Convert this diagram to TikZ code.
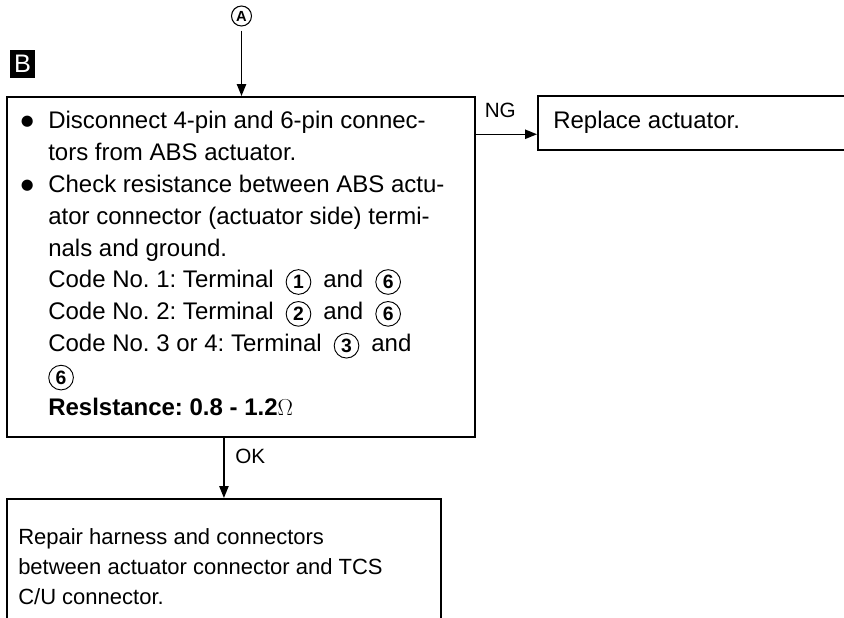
\documentclass[tikz,border=0pt]{standalone}
\usepackage{fontspec}
\setmainfont{Liberation Sans}
\newfontfamily\symfont{DejaVu Sans}
\usetikzlibrary{positioning, arrows.meta}
\frenchspacing

\newcommand{\term}[1]{\tikz[baseline={([yshift=-4.5pt]t.center)}] \node[circle, draw, line width=0.7pt,
    minimum size=18.5pt, inner sep=0pt, font=\bfseries\fontsize{14.5}{14.5}\selectfont] (t) {#1};}
\newcommand{\gapterm}[1]{\hspace{4pt}\term{#1}\hspace{4pt}}
\newcommand{\dotitem}{\llap{\raisebox{2pt}{\symfont\fontsize{11}{11}\selectfont ●}\hspace{11pt}}}

\begin{document}
\begin{tikzpicture}[
    x=0.75pt, y=-0.75pt,
    box/.style={draw, line width=1.4pt, inner sep=0pt},
    body/.style={anchor=north west, align=left, inner sep=0pt, font=\fontsize{18}{23.9}\selectfont},
    flow/.style={-{Triangle[length=9pt, width=7pt]}, line width=1.1pt},
    tag/.style={font=\fontsize{15.5}{16}\selectfont, inner sep=0pt}
]
    \useasboundingbox (0,0) rectangle (844,618);

    % --- ENTRY MARKS ---
    \node[circle, draw, line width=0.8pt, minimum size=15pt, inner sep=0pt,
          font=\bfseries\fontsize{11}{11}\selectfont] (A) at (241.5,16) {A};
    \node[fill=black, text=white, minimum width=19pt, minimum height=21pt, inner sep=0pt,
          font=\fontsize{19}{19}\selectfont] (B) at (22.5,64) {B};

    % --- CHECK BOX ---
    \node[box, anchor=north west, minimum width=351pt, minimum height=255pt] (check) at (6,96) {};
    \node[body] (check-text) at (48,111) {%
        \dotitem Disconnect 4-pin and 6-pin connec-\\
        tors from ABS actuator.\\
        \dotitem Check resistance between ABS actu-\\
        ator connector (actuator side) termi-\\
        nals and ground.\\
        Code No. 1: Terminal \gapterm{1} and \gapterm{6}\\
        Code No. 2: Terminal \gapterm{2} and \gapterm{6}\\
        Code No. 3 or 4: Terminal \gapterm{3} and\\
        \term{6}\\
        \textbf{Reslstance: 0.8 - 1.2$\Omega$}};

    % --- RESULT BOXES ---
    \node[box, anchor=north west, minimum width=300pt, minimum height=40.5pt] (replace) at (537,95) {};
    \node[body, anchor=west] (replace-text) at (553,122) {Replace actuator.};

    \node[box, anchor=north west, minimum width=325.5pt, minimum height=150pt] (repair) at (6,498) {};
    \node[body, font=\fontsize{16.5}{22.5}\selectfont] (repair-text) at (18,528) {%
        Repair harness and connectors\\
        between actuator connector and TCS\\
        C/U connector.};

    % --- CONNECTIONS ---
    \draw[flow, shorten <=3pt] (A) -- (A |- check.north);

    \coordinate (ng-in) at ([yshift=-8.5pt]replace.west);
    \draw[flow] (check.east |- ng-in) -- (ng-in) node[tag, pos=0.4, above=12pt] (ng) {NG};

    \draw[flow] (repair.north |- check.south) -- (repair.north) node[tag, pos=0.3, right=8pt] (ok) {OK};

\end{tikzpicture}
\end{document}
